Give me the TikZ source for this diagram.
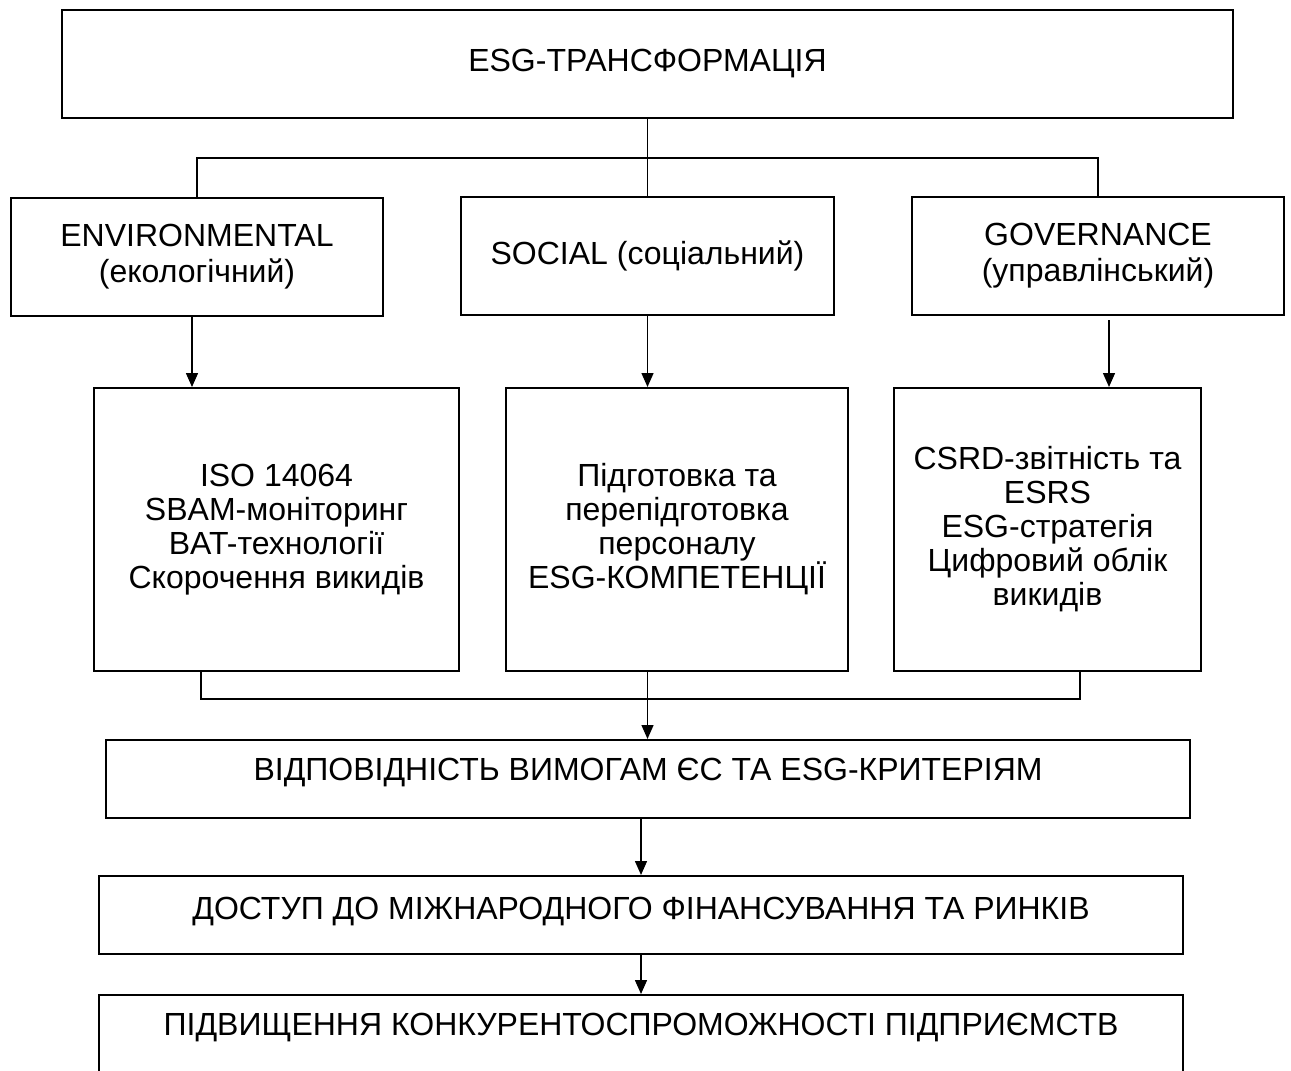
\documentclass[tikz,border=0pt]{standalone}
\usepackage{fontspec}
\setmainfont{Liberation Sans}
\usetikzlibrary{arrows.meta,calc}
\begin{document}
\begin{tikzpicture}[x=0.75pt,y=-0.75pt,
  box/.style={draw, line width=1.5pt, inner sep=0pt, align=center,
    font=\fontsize{24}{25.5}\selectfont},
  headbox/.style={box, font=\fontsize{24}{27}\selectfont},
  conn/.style={line width=1.25pt},
  arr/.style={line width=1.1pt, -{Triangle[width=9pt,length=10.5pt]}}]
\useasboundingbox (0,0) rectangle (1291,1070);
\fill[white] (0,0) rectangle (1291,1070);
\clip (0,0) rectangle (1291,1070);

\node[box, minimum width=878.25pt, minimum height=81pt] (top) at (647.5,64) {ESG-ТРАНСФОРМАЦІЯ};

\node[headbox, minimum width=279pt, minimum height=88.5pt] (env) at (197,257) {ENVIRONMENTAL\\(екологічний)};
\node[headbox, minimum width=279.75pt, minimum height=88.5pt] (soc) at (647.5,256) {SOCIAL (соціальний)};
\node[headbox, minimum width=279pt, minimum height=88.5pt] (gov) at (1098,256) {GOVERNANCE\\(управлінський)};

\node[box, minimum width=273.75pt, minimum height=212.25pt] (envL) at (276.5,529.5) {ISO 14064\\SBAM-моніторинг\\BAT-технології\\Скорочення викидів};
\node[box, minimum width=256.5pt, minimum height=212.25pt] (socL) at (677,529.5) {Підготовка та\\перепідготовка\\персоналу\\ESG-КОМПЕТЕНЦІЇ};
\node[box, minimum width=230.25pt, minimum height=212.25pt] (govL) at (1047.5,529.5) {CSRD-звітність та\\ESRS\\ESG-стратегія\\Цифровий облік\\викидів};

\node[box, minimum width=813pt, text height=30.4pt, text depth=28.1pt, anchor=north] (vid) at (648,739) {ВІДПОВІДНІСТЬ ВИМОГАМ ЄС ТА ESG-КРИТЕРІЯМ};
\node[box, minimum width=813pt, text height=32.6pt, text depth=25.9pt, anchor=north] (dost) at (641,875) {ДОСТУП ДО МІЖНАРОДНОГО ФІНАНСУВАННЯ ТА РИНКІВ};
\node[box, minimum width=813pt, text height=30.4pt, text depth=45pt, anchor=north] (pidv) at (641,994) {ПІДВИЩЕННЯ КОНКУРЕНТОСПРОМОЖНОСТІ ПІДПРИЄМСТВ};

% top connectors
\draw[conn] (top.south) -- (soc.north);
\draw[conn] (env.north) -- ++(0,-39) -| (gov.north);

% arrows to detail boxes
\draw[arr] ([xshift=-3.75pt]env.south) -- ([xshift=-3.75pt]env.south |- envL.north);
\draw[arr] (soc.south) -- (soc.south |- socL.north);
\draw[arr, shorten <=3pt] ([xshift=8.25pt]gov.south) -- ([xshift=8.25pt]gov.south |- govL.north);

% merge
\coordinate (mL) at (201,699);
\coordinate (mR) at (1080,699);
\draw[conn] (envL.south -| mL) -- (mL) -- (mR) -- (govL.south -| mR);
\draw[arr] (socL.south -| soc.south) -- (soc.south |- vid.north);

% bottom chain
\draw[arr] (vid.south -| dost.north) -- (dost.north);
\draw[arr] (dost.south) -- (pidv.north);
\end{tikzpicture}
\end{document}
